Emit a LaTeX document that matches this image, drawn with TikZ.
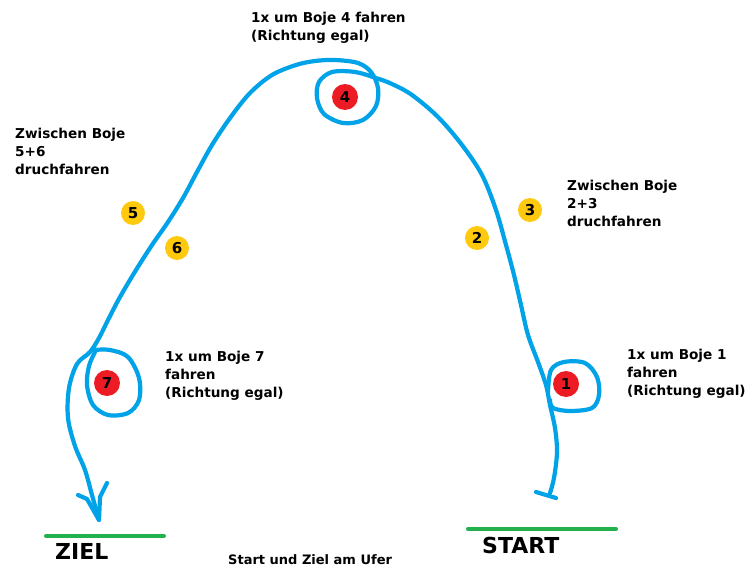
\documentclass[tikz,border=0pt]{standalone}
\usepackage{fontspec}
\setmainfont{DejaVu Sans}
\definecolor{routeblue}{HTML}{00A2E8}
\definecolor{buoyred}{HTML}{ED1C24}
\definecolor{buoyyellow}{HTML}{FFC90E}
\definecolor{shoregreen}{HTML}{22B14C}
\tikzset{
  route/.style={draw=routeblue, line width=4.2pt, line cap=round, line join=round},
  shore/.style={draw=shoregreen, line width=4pt, line cap=round},
  redbuoy/.style={circle, fill=buoyred, minimum size=26pt, inner sep=0pt, font=\fontsize{15}{15}\selectfont\bfseries},
  yellowbuoy/.style={circle, fill=buoyyellow, minimum size=24pt, inner sep=0pt, font=\fontsize{15}{15}\selectfont\bfseries},
  lbl/.style={anchor=north west, align=left, inner sep=0pt, font=\fontsize{13.6}{18}\selectfont\bfseries},
  big/.style={anchor=north west, inner sep=0pt, font=\fontsize{22}{22}\selectfont\bfseries}
}
\begin{document}
\begin{tikzpicture}[x=1pt, y=-1pt]
\useasboundingbox (0,0) rectangle (756,570);
\fill[white] (0,0) rectangle (756,570);

% shores
\coordinate (z1) at (46,536); \coordinate (z2) at (164,536);
\coordinate (s1) at (468,529); \coordinate (s2) at (616,529);
\draw[shore] (z1) -- (z2);
\draw[shore] (s1) -- (s2);

% buoys
\node[redbuoy] (b4) at (345,97) {4};
\node[redbuoy] (b1) at (566,384) {1};
\node[redbuoy] (b7) at (107,383) {7};
\node[yellowbuoy] (b5) at (133,213) {5};
\node[yellowbuoy] (b6) at (177,248) {6};
\node[yellowbuoy] (b2) at (477,238) {2};
\node[yellowbuoy] (b3) at (530,210) {3};

% route
\draw[route] plot[smooth, tension=0.55] coordinates {
 (550,493) (554,478) (557,452) (555,428) (550,405) (546,385) (538,362)
 (528,335) (521,305) (514,275) (506,245) (496,210) (482,175) (462,145)
 (438,117) (412,95) (392,84) (376,78) (355,72) (332,72) (319,82) (317,98)
 (324,114) (343,123) (363,120) (376,106) (378,88) (371,72) (358,63)
 (335,60) (315,61) (296,65) (272,75) (250,93) (230,118) (212,145)
 (197,172) (183,198) (168,222) (152,245) (136,270) (120,297) (108,320)
 (99,338) (90,352) (77,364) (69,388) (68,418) (75,446) (85,470) (92,495) (99,520)};
% loop around 1
\draw[route] plot[smooth, tension=0.55] coordinates {
 (548,392) (551,370) (564,362) (585,363) (597,377) (599,395) (592,408)
 (570,411) (553,408) (550,400)};
% loop around 7
\draw[route] plot[smooth, tension=0.55] coordinates {
 (94,350) (110,350) (128,357) (139,378) (139,400) (128,413) (108,415)
 (93,405) (87,385) (89,366) (95,352)};
% start tick
\coordinate (t1) at (536,492); \coordinate (t2) at (556,498);
\draw[route] (t1) -- (t2);
% arrow at goal
\coordinate (tip) at (99,520);
\draw[route] (78,495) -- (87,499) -- (tip) -- (100,497) -- (107,483);

% labels
\node[lbl] (l4) at (251,12) {1x um Boje 4 fahren\\(Richtung egal)};
\node[lbl] (l56) at (15,128) {Zwischen Boje\\5+6\\druchfahren};
\node[lbl] (l23) at (567,180) {Zwischen Boje\\2+3\\druchfahren};
\node[lbl] (l7) at (165,351) {1x um Boje 7\\fahren\\(Richtung egal)};
\node[lbl] (l1) at (627,349) {1x um Boje 1\\fahren\\(Richtung egal)};
\node[big] (ziel) at (55,543) {ZIEL};
\node[big] (start) at (482,537) {START};
\node[lbl, font=\fontsize{13}{13}\selectfont\bfseries] (ufer) at (228,554) {Start und Ziel am Ufer};
\end{tikzpicture}
\end{document}
